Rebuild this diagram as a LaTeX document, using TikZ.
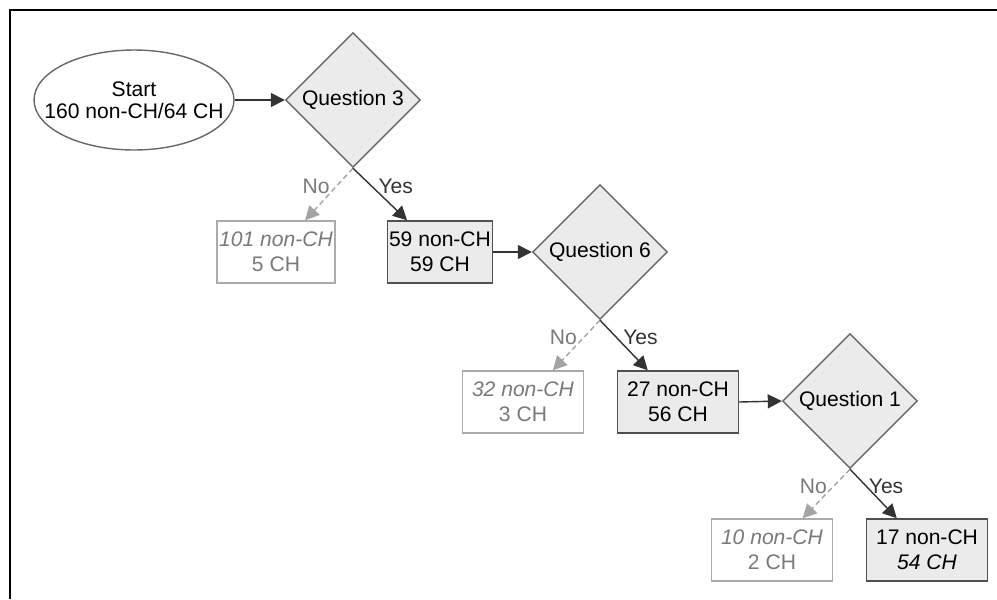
\documentclass[tikz,border=0pt]{standalone}
\usepackage{fontspec}
\setmainfont{Liberation Sans}
\usetikzlibrary{arrows.meta, shapes.geometric}
\definecolor{qfill}{HTML}{EBEBEB}
\definecolor{qline}{HTML}{686868}
\definecolor{dkline}{HTML}{505050}
\definecolor{ltline}{HTML}{ABABAB}
\definecolor{lttext}{HTML}{7A7A7A}
\definecolor{noline}{HTML}{A4A4A4}
\definecolor{yesline}{HTML}{333333}

\begin{document}
\begin{tikzpicture}[
  x=0.02cm, y=-0.02cm,
  >={Triangle[length=2.8mm, width=2.8mm]},
  every node/.style={font=\fontsize{12}{14}\selectfont},
  qbox/.style={
    diamond, draw=qline, fill=qfill, line width=0.8pt,
    minimum width=2.7cm, minimum height=2.7cm, inner sep=0pt
  },
  keepbox/.style={
    draw=dkline, fill=qfill, line width=0.8pt, minimum width=2.42cm,
    minimum height=1.24cm, align=center, inner xsep=1pt, text=black
  },
  dropbox/.style={
    draw=ltline, fill=white, line width=0.8pt, minimum width=2.42cm,
    minimum height=1.24cm, align=center, inner xsep=1pt, text=lttext
  },
  yesarr/.style={->, line width=0.8pt, yesline},
  noarr/.style={->, line width=0.8pt, noline, dash pattern=on 3pt off 2pt},
  nolbl/.style={text=lttext},
]

% Frame
\useasboundingbox (0,0) rectangle (997,599);
\draw[line width=1.5pt] (10,599) -- (10,10) -- (997,10);

% Start
\node[ellipse, draw=qline, fill=white, line width=0.8pt,
      inner xsep=-11pt, inner ysep=0pt,
      minimum width=4cm, minimum height=2cm, align=center,
      font=\fontsize{12}{12.5}\selectfont] (start) at (134,100)
  {Start\\160 non-CH/64 CH};

% =============================================
% Questions
% =============================================
\node[qbox] (q3) at (353,100) {Question 3};
\node[qbox] (q6) at (600,252) {Question 6};
\node[qbox] (q1) at (850,401) {Question 1};

% =============================================
% Outcome boxes
% =============================================
\node[dropbox, minimum width=2.36cm] (b101) at (276,252)
  {\textit{101 non-CH}\\5 CH};
\node[keepbox, minimum width=2.06cm] (b59) at (440,252)
  {59 non-CH\\59 CH};

\node[dropbox] (b32) at (523,402) {\textit{32 non-CH}\\3 CH};
\node[keepbox] (b27) at (678,402) {27 non-CH\\56 CH};

\node[dropbox] (b10) at (772,550) {\textit{10 non-CH}\\2 CH};
\node[keepbox] (b17) at (927,550) {17 non-CH\\\textit{54 CH}};

% =============================================
% Arrows
% =============================================
\draw[yesarr] (start.east) -- (q3.west);
\draw[yesarr] (b59.east) -- (q6.west);
\draw[yesarr] (b27.east) -- (q1.west);

% Question 3
\draw[noarr] (q3.south) -- (b101)
  node[pos=0.35, left, nolbl] {No};
\draw[yesarr] (q3.south) -- (b59)
  node[pos=0.35, right] {Yes};

% Question 6
\draw[noarr] (q6.south) -- (b32)
  node[pos=0.35, left, nolbl] {No};
\draw[yesarr] (q6.south) -- (b27)
  node[pos=0.35, right] {Yes};

% Question 1
\draw[noarr] (q1.south) -- (b10)
  node[pos=0.35, left, nolbl] {No};
\draw[yesarr] (q1.south) -- (b17)
  node[pos=0.35, right, inner xsep=1pt] {Yes};

\end{tikzpicture}
\end{document}
